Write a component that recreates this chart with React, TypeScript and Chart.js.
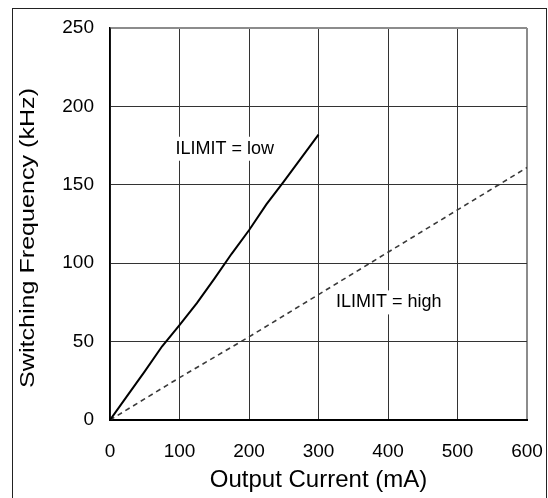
import React, { useEffect, useRef } from 'react';
import { Chart, registerables } from 'chart.js';

Chart.register(...registerables);

const FONT = "'Liberation Sans', Arial, Helvetica, sans-serif";

// Axis ticks
const currentTicks = [0, 100, 200, 300, 400, 500, 600];
const freqTicks = [0, 50, 100, 150, 200, 250];

// ILIMIT = low (solid)
const lowCurrent = [0, 25, 50, 75, 100, 125, 150, 175, 200, 225, 250, 275, 300];
const lowFreq = [0, 15.5, 31, 47, 60.5, 74.5, 90, 106, 121, 137.5, 152, 167, 182];

// ILIMIT = high (dashed)
const highCurrent = [0, 100, 200, 300, 400, 500, 600];
const highFreq = [0, 27, 53, 80, 107, 134, 161];

const xTitle = 'Output Current (mA)';
const yTitle = 'Switching Frequency (kHz)';
const lowLabel = 'ILIMIT = low';
const highLabel = 'ILIMIT = high';
const lowLabelAt = { x: 165, y: 173 };
const highLabelAt = { x: 401, y: 75 };

const frameColor = '#222';
const gridColor = '#333';
const edgeGrid = '#8c8c8c';

const framePlugin = {
  id: 'outerFrame',
  beforeDraw(chart: any) {
    const ctx = chart.ctx;
    ctx.save();
    ctx.fillStyle = '#fff';
    ctx.fillRect(0, 0, chart.width, chart.height);
    ctx.strokeStyle = frameColor;
    ctx.lineWidth = 1;
    ctx.strokeRect(12.5, 8.5, 534, 600);
    ctx.restore();
  },
};

const labelsPlugin = {
  id: 'curveLabels',
  beforeDatasetsDraw(chart: any) {
    const ctx = chart.ctx;
    const xs = chart.scales.x;
    const ys = chart.scales.y;
    ctx.save();
    ctx.font = `18px ${FONT}`;
    ctx.textAlign = 'center';
    ctx.textBaseline = 'middle';
    const items = [
      { t: lowLabel, p: lowLabelAt },
      { t: highLabel, p: highLabelAt },
    ];
    for (const it of items) {
      const px = xs.getPixelForValue(it.p.x);
      const py = ys.getPixelForValue(it.p.y);
      const w = ctx.measureText(it.t).width;
      ctx.fillStyle = '#fff';
      ctx.fillRect(px - w / 2 - 5, py - 12, w + 10, 24);
      ctx.fillStyle = '#000';
      ctx.fillText(it.t, px, py);
    }
    ctx.restore();
  },
};

const yTitlePlugin = {
  id: 'yTitleDraw',
  afterDraw(chart: any) {
    const ctx = chart.ctx;
    const area = chart.chartArea;
    ctx.save();
    ctx.font = `21px ${FONT}`;
    ctx.fillStyle = '#000';
    ctx.textAlign = 'center';
    ctx.textBaseline = 'middle';
    ctx.translate(28.5, area.top + area.height / 2 + 14);
    ctx.rotate(-Math.PI / 2);
    const w = ctx.measureText(yTitle).width;
    ctx.scale(300 / w, 1);
    ctx.fillText(yTitle, 0, 0);
    ctx.restore();
  },
};

export default function App() {
  const ref = useRef<HTMLCanvasElement | null>(null);

  useEffect(() => {
    if (!ref.current) return;
    const chart = new Chart(ref.current, {
      type: 'line',
      data: {
        datasets: [
          {
            label: lowLabel,
            data: lowCurrent.map((x, i) => ({ x, y: lowFreq[i] })),
            borderColor: '#000',
            borderWidth: 2,
            pointRadius: 0,
            fill: false,
            tension: 0,
          },
          {
            label: highLabel,
            data: highCurrent.map((x, i) => ({ x, y: highFreq[i] })),
            borderColor: '#3a3a3a',
            borderWidth: 1.6,
            borderDash: [5, 4],
            pointRadius: 0,
            fill: false,
            tension: 0,
          },
        ],
      },
      options: {
        animation: false,
        responsive: false,
        devicePixelRatio: 1,
        layout: { padding: { top: 28, right: 21, left: 0, bottom: 0 } },
        plugins: {
          legend: { display: false },
          tooltip: { enabled: false },
        },
        scales: {
          x: {
            type: 'linear',
            min: 0,
            max: 600,
            afterBuildTicks: (s: any) => {
              s.ticks = currentTicks.map((v) => ({ value: v }));
            },
            afterFit: (s: any) => {
              s.height = 78;
              s.paddingLeft = 0;
              s.paddingRight = 0;
            },
            ticks: {
              color: '#000',
              font: { family: FONT, size: 19 },
              padding: 20,
              maxRotation: 0,
            },
            grid: {
              drawTicks: false,
              color: (c: any) => (c.tick && c.tick.value === 600 ? edgeGrid : gridColor),
              lineWidth: (c: any) => (c.tick && c.tick.value === 600 ? 2 : 1),
            },
            border: { display: true, color: '#000', width: 2 },
            title: {
              display: true,
              text: xTitle,
              color: '#000',
              font: { family: FONT, size: 24 },
              padding: { top: 0, bottom: 3 },
            },
          },
          y: {
            type: 'linear',
            min: 0,
            max: 250,
            afterBuildTicks: (s: any) => {
              s.ticks = freqTicks.map((v) => ({ value: v }));
            },
            afterFit: (s: any) => {
              s.width = 110;
              s.paddingTop = 0;
              s.paddingBottom = 0;
            },
            ticks: {
              color: '#000',
              font: { family: FONT, size: 19 },
              padding: 16,
            },
            grid: {
              drawTicks: false,
              color: (c: any) => (c.tick && c.tick.value === 250 ? edgeGrid : gridColor),
              lineWidth: (c: any) => (c.tick && c.tick.value === 250 ? 2 : 1),
            },
            border: { display: true, color: '#000', width: 1.5 },
          },
        },
      },
      plugins: [framePlugin, labelsPlugin, yTitlePlugin],
    } as any);
    return () => chart.destroy();
  }, []);

  return (
    <div
      style={{
        position: 'fixed',
        left: 0,
        top: 0,
        width: 548,
        height: 498,
        background: '#fff',
        overflow: 'hidden',
      }}
    >
      <canvas ref={ref} width={548} height={498} style={{ width: 548, height: 498, display: 'block' }} />
    </div>
  );
}
